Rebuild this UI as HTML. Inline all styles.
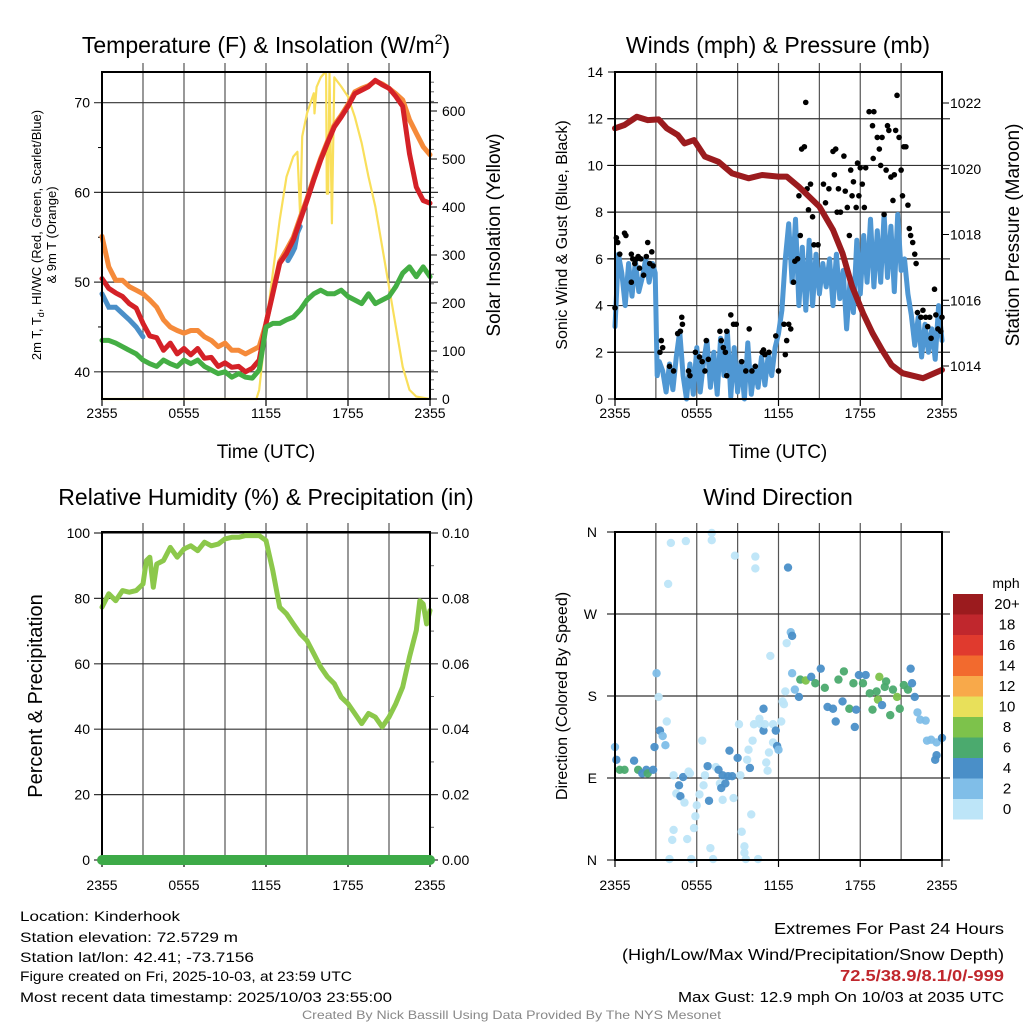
<!DOCTYPE html>
<html><head><meta charset="utf-8"><title>Kinderhook Meteogram</title>
<style>
html,body{margin:0;padding:0;background:#fff;}
svg{display:block;font-family:"Liberation Sans",Arial,sans-serif;}
</style></head>
<body>
<svg id="root" width="1024" height="1024" viewBox="0 0 1024 1024" xmlns="http://www.w3.org/2000/svg">
<rect x="0" y="0" width="1024" height="1024" fill="#fff"/>
<g id="p1"></g>
<g id="p2"></g>
<g id="p3"></g>
<g id="p4"></g>
<g id="legend"></g>

<text x="266" y="53" font-size="23" text-anchor="middle">Temperature (F) &amp; Insolation (W/m<tspan font-size="14" dy="-9">2</tspan><tspan dy="9">)</tspan></text>
<text x="778" y="53" font-size="23" text-anchor="middle">Winds (mph) &amp; Pressure (mb)</text>
<text x="266" y="505" font-size="23" text-anchor="middle">Relative Humidity (%) &amp; Precipitation (in)</text>
<text x="778" y="505" font-size="23" text-anchor="middle">Wind Direction</text>

<text x="266" y="458" font-size="19" text-anchor="middle">Time (UTC)</text>
<text x="778" y="458" font-size="19" text-anchor="middle">Time (UTC)</text>

<text transform="translate(41,235) rotate(-90)" font-size="13" text-anchor="middle">2m T, T<tspan font-size="9" dy="3">d</tspan><tspan dy="-3">, HI/WC (Red, Green, Scarlet/Blue)</tspan></text>
<text transform="translate(56,235) rotate(-90)" font-size="13" text-anchor="middle">&amp; 9m T (Orange)</text>
<text transform="translate(500,235) rotate(-90)" font-size="19" text-anchor="middle">Solar Insolation (Yellow)</text>
<text transform="translate(567,235) rotate(-90)" font-size="16" text-anchor="middle">Sonic Wind &amp; Gust (Blue, Black)</text>
<text transform="translate(1019,235) rotate(-90)" font-size="19" text-anchor="middle">Station Pressure (Maroon)</text>
<text transform="translate(42,696) rotate(-90)" font-size="20" text-anchor="middle">Percent &amp; Precipitation</text>
<text transform="translate(567,696) rotate(-90)" font-size="16" text-anchor="middle">Direction (Colored By Speed)</text>

<g font-size="14">
<text x="20" y="921" textLength="160" lengthAdjust="spacingAndGlyphs">Location: Kinderhook</text>
<text x="20" y="942" textLength="218" lengthAdjust="spacingAndGlyphs">Station elevation: 72.5729 m</text>
<text x="20" y="962" textLength="234" lengthAdjust="spacingAndGlyphs">Station lat/lon: 42.41; -73.7156</text>
<text x="20" y="981" textLength="332" lengthAdjust="spacingAndGlyphs">Figure created on Fri, 2025-10-03, at 23:59 UTC</text>
<text x="20" y="1002" textLength="372" lengthAdjust="spacingAndGlyphs">Most recent data timestamp: 2025/10/03 23:55:00</text>
</g>
<g>
<text x="774" y="934" font-size="16" textLength="230" lengthAdjust="spacingAndGlyphs">Extremes For Past 24 Hours</text>
<text x="622" y="960" font-size="16" textLength="382" lengthAdjust="spacingAndGlyphs">(High/Low/Max Wind/Precipitation/Snow Depth)</text>
<text x="840" y="981" font-size="16" font-weight="bold" fill="#C0272D" textLength="164" lengthAdjust="spacingAndGlyphs">72.5/38.9/8.1/0/-999</text>
<text x="678" y="1002" font-size="15" textLength="326" lengthAdjust="spacingAndGlyphs">Max Gust: 12.9 mph On 10/03 at 2035 UTC</text>
</g>
<text x="302" y="1019" font-size="12" fill="#888" textLength="419" lengthAdjust="spacingAndGlyphs">Created By Nick Bassill Using Data Provided By The NYS Mesonet</text>
</svg>

<script>
// ---------- DATA ----------
const xTickLabels = ["2355","0555","1155","1755","2355"];
const tempTicks = [40,50,60,70];
const solarTicks = [0,100,200,300,400,500,600];
const windTicks = [0,2,4,6,8,10,12,14];
const presTicks = [1014,1016,1018,1020,1022];
const rhTicks = [0,20,40,60,80,100];
const precipTicks = ["0.00","0.02","0.04","0.06","0.08","0.10"];
const dirTicks = ["N","E","S","W","N"];
const speedLabels = ["20+","18","16","14","12","10","8","6","4","2","0"];
const speedColors = ["#9B1B1E","#C0272D","#E03A2E","#F26A2E","#F8A94A","#E8E05A","#7DC24B","#4BAA6E","#4A8FC8","#80BEE8","#BDE5F8"];

// half-hourly temperature series (h0..h24)
const tempRed = [50.4,49.3,48.8,48.4,47.6,47.1,45.4,44.0,43.8,42.4,43.2,42.0,
 42.6,41.9,42.6,41.5,41.6,40.6,41.0,40.5,40.6,40.0,40.4,41.3,
 45.4,48.7,52.1,53.2,54.7,56.9,59.1,61.4,63.6,65.5,67.3,68.4,
 69.6,71.0,71.4,71.8,72.5,72.0,71.6,70.7,69.6,64.3,60.6,59.1,58.8];
const tempOrange = [55.1,51.7,50.2,50.2,49.5,49.1,48.7,48.0,47.2,45.8,45.0,44.6,
 44.3,44.6,44.6,43.9,43.5,42.8,43.2,42.4,42.4,42.0,42.4,42.8,
 45.4,48.9,52.3,53.6,55.0,57.2,59.3,61.6,63.8,65.7,67.5,68.6,
 69.8,71.2,71.6,71.9,72.4,72.1,71.6,71.0,70.3,68.1,66.6,65.1,64.2];
const tempGreen = [43.5,43.5,43.2,42.8,42.4,42.0,41.3,40.9,40.6,41.3,40.9,40.6,
 41.3,40.9,41.3,40.6,40.2,39.8,40.0,39.4,39.8,39.4,39.3,40.2,
 45.0,45.4,45.4,45.8,46.1,46.9,48.0,48.7,49.1,48.7,48.7,49.1,
 48.4,48.0,47.6,48.7,47.6,48.0,48.4,49.5,51.0,51.7,50.6,51.7,50.6];
const wcTimes = [0,0.5,1,1.5,2,2.5,3];
const wcValues = [48.7,47.2,47.2,46.5,45.8,45.0,43.9];
const wcTimes2 = [13.6,13.9,14.1,14.3,14.5];
const wcValues2 = [52.4,53.2,53.8,55.5,56.2];

const solarTimes = [0,11.3,11.5,12,12.5,13,13.5,14,14.3,14.5,14.65,15,15.5,15.55,15.7,16,16.3,16.4,16.45,16.55,16.65,16.82,17,17.5,18,18.5,19,19.5,20,20.5,21,21.5,22,22.5,23,24];
const solarValues = [0,0,19,150,262,373,463,505,515,380,547,595,637,595,650,670,680,678,428,428,680,366,670,651,630,588,533,463,401,317,234,151,67,19,5,0];

const windTimes = [0,0.25,0.5,0.75,1,1.25,1.5,1.75,2,2.25,2.5,2.75,2.95,3.1,3.25,3.5,3.75,4,4.25,4.5,4.75,5,5.25,5.5,5.75,6,6.25,6.5,6.75,7,7.25,7.5,7.75,8,8.25,8.5,8.75,9,9.25,9.5,9.75,10,10.25,10.5,10.75,11,11.25,11.5,11.75,12,12.25,12.5,12.75,13,13.25,13.5,13.75,14,14.25,14.5,14.75,15,15.25,15.5,15.75,16,16.25,16.5,16.75,17,17.25,17.5,17.75,18,18.25,18.5,18.75,19,19.25,19.5,19.75,20,20.25,20.5,20.75,21,21.25,21.5,21.75,22,22.25,22.5,22.75,23,23.25,23.5,23.75,24];
const windValues = [3.1,6.2,5.4,4.0,5.8,4.4,5.9,4.6,5.2,6.0,5.0,5.8,5.4,1.0,1.6,1.2,0.3,1.5,0.4,1.8,2.9,1.0,0.0,1.5,0.2,2.2,0.3,1.6,2.5,0.5,2.0,0.2,2.6,1.0,2.9,0.1,2.2,0.3,1.6,0.0,2.4,0.2,1.4,0.5,1.8,0.6,1.9,1.0,2.2,2.8,3.8,6.0,7.5,5.0,7.7,4.0,6.5,3.8,6.8,4.0,6.2,4.5,5.8,4.8,6.0,4.0,6.2,4.3,5.5,3.0,5.0,3.7,6.8,4.5,7.0,5.0,7.7,4.8,7.2,5.0,7.9,5.2,7.4,4.6,7.9,5.5,6.0,4.5,3.6,2.3,3.5,1.8,3.2,2.0,3.0,1.7,4.0,2.5];

const gustTimes = [0,0.1,0.2,0.7,0.8,0.35,1.2,1.3,1.6,1.7,1.45,1.8,1.9,2.1,2.3,2.4,2.55,2.7,2.8,1.2,3.3,3.4,3.5,4.0,4.3,4.8,4.9,4.95,4.6,5.4,5.5,5.9,6.2,6.4,6.6,6.7,6.85,7.7,7.8,7.95,8.1,8.2,8.5,8.7,8.9,8.2,9.3,9.6,9.85,10.05,10.3,10.8,10.9,11.0,11.3,11.8,12.0,12.4,12.5,12.6,12.75,12.9,13.1,13.2,13.4,13.5,13.6,13.7,13.9,14.0,14.1,14.2,14.35,14.5,14.6,14.9,15.3,15.45,15.7,16.0,16.2,16.1,16.3,16.4,16.55,16.8,16.9,17.05,17.2,17.3,17.4,17.5,17.7,17.8,17.9,18.0,18.15,18.3,18.4,18.65,18.9,19.0,18.95,19.25,19.4,19.6,19.5,19.75,19.9,20.0,20.1,20.25,20.4,20.5,20.6,20.7,20.85,21.0,21.1,21.2,21.35,21.5,21.6,21.7,21.85,22.0,22.1,22.2,22.45,22.6,22.8,22.95,23.1,23.2,23.45,23.55,23.9,24.0,23.7];
const gustValues = [3.9,6.9,6.7,7.1,7.0,6.2,6.2,6.0,6.0,6.1,5.8,5.6,6.0,5.3,6.1,6.7,5.8,6.3,5.7,5.0,2.0,2.5,2.2,1.4,1.2,2.9,3.5,3.2,2.8,1.2,1.0,2.0,1.8,1.6,1.2,2.5,1.7,2.9,2.5,2.2,2.0,2.9,3.6,3.2,3.2,1.0,1.6,1.2,3.0,1.2,1.4,2.0,2.1,1.9,2.0,2.7,1.2,3.2,1.9,2.5,3.2,3.0,5.0,5.9,6.0,8.7,7.0,10.7,10.8,12.7,9.0,8.1,9.2,7.8,6.6,6.6,9.2,8.4,9.0,10.6,10.7,9.6,8.0,9.0,8.0,10.4,8.9,8.2,7.0,9.8,8.7,9.3,8.2,10.1,8.7,9.9,9.2,8.2,9.9,12.3,11.7,12.3,10.3,11.2,10.7,11.2,10.0,7.9,9.8,11.7,11.5,9.5,8.5,9.6,11.5,13.0,11.2,9.8,8.7,10.8,10.8,8.3,7.3,7.0,6.7,6.2,5.8,3.7,3.5,3.8,3.5,3.1,3.5,2.6,4.7,3.6,2.9,3.5,3.0];

const presTimes = [0,0.7,1.6,2.4,3.2,3.8,4.6,5.1,5.8,6.6,7.6,8.6,9.8,10.8,12.0,12.6,13.5,14.0,15.0,16.0,16.7,17.4,18.2,18.9,19.6,20.3,21.1,22.6,24.0];
const presValues = [1021.23,1021.33,1021.58,1021.48,1021.50,1021.23,1021.03,1020.77,1020.87,1020.37,1020.21,1019.86,1019.71,1019.81,1019.76,1019.76,1019.45,1019.25,1018.85,1018.14,1017.43,1016.42,1015.61,1015.0,1014.49,1014.03,1013.78,1013.63,1013.88];

const rhTimes = [0,0.5,1,1.5,2,2.5,3,3.25,3.5,3.75,4,4.5,5,5.5,6,6.5,7,7.5,8,8.5,9,9.5,10,10.5,11,11.5,12,12.5,13,13.5,14,14.5,15,15.5,16,16.5,17,17.5,18,18.5,19,19.5,20,20.5,21,21.5,22,22.5,23,23.25,23.5,23.75,24];
const rhValues = [77.3,81.4,79.3,82.4,81.9,82.4,84.4,91.6,92.6,83.4,90.5,91.6,95.6,92.6,95.1,96.1,94.6,97.2,96.1,96.6,98.2,98.7,98.7,99.2,99.2,99.2,97.7,88.5,77.3,75.3,72.2,69.2,67.1,63.1,59.0,56.0,53.9,49.8,47.8,44.8,41.7,44.8,43.7,40.7,43.7,47.8,52.9,62.1,70.2,79.3,78.3,72.2,76.3];
const precipTimes = [0,24];
const precipValues = [0,0];

const dirTimes = [0,0.1,0.35,0.7,1.4,1.7,2.0,2.3,2.4,2.8,2.9,3.05,3.2,3.3,3.5,3.7,3.8,3.9,4.1,5.2,7.1,7.1,8.8,10.3,10.3,12.7,12.9,13.0,12.6,11.4,4.3,4.7,5.0,4.5,4.8,5.1,5.4,5.5,4.3,4.2,5.3,5.8,5.9,6.0,6.2,6.4,6.5,6.6,6.8,6.9,7.0,7.2,5.6,4.0,7.4,7.6,7.7,7.8,7.9,7.9,8.1,8.3,8.4,8.7,8.6,9.0,9.1,9.2,9.3,9.5,9.5,9.6,10.5,9.7,9.8,9.9,10.0,10.1,10.2,10.6,10.7,10.9,10.9,11.0,11.1,11.2,11.3,11.6,11.6,11.8,11.9,12.0,12.2,12.3,12.4,12.5,13.0,13.2,13.5,13.6,14.0,14.4,14.7,15.1,15.4,15.6,16.0,16.2,16.4,16.7,16.8,17.2,17.5,17.6,17.7,17.9,18.2,18.4,18.7,18.9,19.2,19.4,19.3,19.6,19.8,19.9,20.2,20.4,20.7,20.9,21.2,21.5,21.7,21.8,22.0,22.2,22.4,22.8,22.9,23.2,23.6,24.0,23.6,23.5];
const dirValues = [124,110,99,99,109,99,95,99,95,99,124,205,179,142,136,126,152,303,348,350,359,351,334,333,320,321,250,246,238,224,93,82,91,73,70,63,97,95,33,22,23,35,48,60,72,131,82,93,103,65,13,1,1,1,102,99,84,79,93,66,84,92,120,68,92,112,149,93,31,15,8,1,1,110,121,101,50,131,149,155,149,142,166,149,107,98,118,149,129,142,125,121,152,174,171,185,205,187,179,198,197,201,194,210,189,168,166,152,198,174,207,166,194,146,165,203,194,203,183,165,185,201,176,170,190,196,159,187,179,166,192,187,210,194,179,162,154,153,131,132,129,134,115,110];
const dirSpeeds = [3,5,7,7,5,7,5,5,7,5,5,3,1,5,3,3,1,1,1,1,1,1,1,1,1,5,3,5,1,1,1,5,5,1,5,1,1,1,1,1,1,1,1,1,1,1,1,1,5,5,1,1,1,1,1,5,1,5,5,1,5,5,5,1,5,5,1,1,1,1,1,1,1,1,1,5,1,1,1,1,1,5,5,1,1,1,1,1,1,5,5,3,1,1,1,1,3,3,5,7,9,5,7,5,7,5,5,5,7,5,7,7,7,5,5,5,7,5,7,7,7,9,9,5,7,7,7,7,9,7,7,7,5,5,5,3,3,3,3,3,3,5,5,5];

// ---------- HELPERS ----------
const NS = "http://www.w3.org/2000/svg";
function mk(tag, attrs, parent){
  const el = document.createElementNS(NS, tag);
  for (const k in attrs) el.setAttribute(k, attrs[k]);
  parent.appendChild(el);
  return el;
}
function lin(d0,d1,r0,r1){ return v => r0 + (v-d0)*(r1-r0)/(d1-d0); }
function pathFrom(ts, vs, fx, fy){
  let d = "";
  for (let i=0;i<ts.length;i++){
    if (vs[i]===null) continue;
    d += (d===""?"M":"L") + fx(ts[i]).toFixed(1) + "," + fy(vs[i]).toFixed(1);
  }
  return d;
}
const halfHours = tempRed.map((_,i)=>i*0.5);

function frame(g, x0, y0, x1, y1, name, labOff){
  const fx = lin(0,24,x0,x1);
  for (let h=3; h<24; h+=3){
    const l = mk("line",{x1:fx(h),x2:fx(h),y1:y0-9,y2:y1,stroke:"#555","stroke-width":1.2},g);
    
    
  }
  for (let h=0; h<=24; h+=6){
    const t = mk("line",{x1:fx(h),x2:fx(h),y1:y1,y2:y1+7,stroke:"#000","stroke-width":1.2},g);
    
    
  }
  xTickLabels.forEach((lab,i)=>{
    const t = mk("text",{x:fx(i*6),y:y1+labOff,"font-size":14,"text-anchor":"middle"},g);
    t.textContent = lab;
    
    
  });
}
function hgrid(g, x0, x1, y, name){
  const l = mk("line",{x1:x0-8,x2:x1+8,y1:y,y2:y,stroke:"#333","stroke-width":1.2},g);
  
  
}
function border(g,x0,y0,x1,y1,name){
  const r = mk("rect",{x:x0,y:y0,width:x1-x0,height:y1-y0,fill:"none",stroke:"#000","stroke-width":2},g);
  
  
}
function label(g,x,y,txt,anchor,name,size){
  const t = mk("text",{x:x,y:y,"font-size":size||14,"text-anchor":anchor},g);
  t.textContent = txt;
  
  
}

// ---------- PANEL 1 ----------
(function(){
  const g = document.getElementById("p1");
  const x0=102,x1=430,y0=72,y1=399;
  const fx = lin(0,24,x0,x1);
  const fyT = lin(70,40,102.7,371.8);
  const fyS = lin(0,600,399,111);
  frame(g,x0,y0,x1,y1,"temperature",19);
  tempTicks.forEach(v=>{ hgrid(g,x0,x1,fyT(v),"temperature-hgrid"); label(g,x0-12,fyT(v)+5,String(v),"end","temperature-y-tick-label"); });
  for (let v=35; v<=75; v+=10){ if(fyT(v)>y0 && fyT(v)<y1){ const m=mk("line",{x1:x0-4,x2:x0,y1:fyT(v),y2:fyT(v),stroke:"#000"},g);   } }
  solarTicks.forEach(v=>{ const m=mk("line",{x1:x1,x2:x1+7,y1:fyS(v),y2:fyS(v),stroke:"#000"},g);   label(g,x1+12,fyS(v)+5,String(v),"start","solar-y-tick-label"); });
  for (let v=20; v<680; v+=20){ if (v%100){ const m=mk("line",{x1:x1,x2:x1+4,y1:fyS(v),y2:fyS(v),stroke:"#666"},g);   } }
  const s = mk("path",{d:pathFrom(solarTimes,solarValues,fx,fyS),fill:"none",stroke:"#F9DF5B","stroke-width":2.2,"stroke-linejoin":"round"},g);
  
  
  const o = mk("path",{d:pathFrom(halfHours,tempOrange,fx,fyT),fill:"none",stroke:"#F58A3A","stroke-width":5,"stroke-linejoin":"round","stroke-linecap":"round"},g);
  
  
  const b1 = mk("path",{d:pathFrom(wcTimes,wcValues,fx,fyT),fill:"none",stroke:"#4A8FC8","stroke-width":5,"stroke-linecap":"round"},g);
  
  
  const b2 = mk("path",{d:pathFrom(wcTimes2,wcValues2,fx,fyT),fill:"none",stroke:"#4A8FC8","stroke-width":5,"stroke-linecap":"round"},g);
  
  
  const r = mk("path",{d:pathFrom(halfHours,tempRed,fx,fyT),fill:"none",stroke:"#D42127","stroke-width":5,"stroke-linejoin":"round","stroke-linecap":"round"},g);
  
  
  const gr = mk("path",{d:pathFrom(halfHours,tempGreen,fx,fyT),fill:"none",stroke:"#44AE44","stroke-width":5,"stroke-linejoin":"round","stroke-linecap":"round"},g);
  
  
  border(g,x0,y0,x1,y1,"temperature");
})();

// ---------- PANEL 2 ----------
(function(){
  const g = document.getElementById("p2");
  const x0=615,x1=942,y0=72,y1=399;
  const fx = lin(0,24,x0,x1);
  const fyW = lin(0,14,399,72);
  const fyP = lin(1014,1022,366,103);
  frame(g,x0,y0,x1,y1,"wind",19);
  windTicks.forEach(v=>{ if(v>0&&v<14) hgrid(g,x0,x1,fyW(v),"wind-hgrid"); const m=mk("line",{x1:x0-7,x2:x0,y1:fyW(v),y2:fyW(v),stroke:"#000"},g);   label(g,x0-12,fyW(v)+5,String(v),"end","wind-y-tick-label"); });
  presTicks.forEach(v=>{ const m=mk("line",{x1:x1,x2:x1+7,y1:fyP(v),y2:fyP(v),stroke:"#000"},g);   label(g,x1+8,fyP(v)+5,String(v),"start","pressure-y-tick-label"); });
  const w = mk("path",{d:pathFrom(windTimes,windValues,fx,fyW),fill:"none",stroke:"#4F97D3","stroke-width":5,"stroke-linejoin":"round","stroke-linecap":"round"},g);
  
  
  gustTimes.forEach((t,i)=>{
    const c = mk("circle",{cx:fx(t),cy:fyW(gustValues[i]),r:2.8,fill:"#000"},g);
    
    
  });
  const p = mk("path",{d:pathFrom(presTimes,presValues,fx,fyP),fill:"none",stroke:"#9B1B1E","stroke-width":6,"stroke-linejoin":"round","stroke-linecap":"round"},g);
  
  
  border(g,x0,y0,x1,y1,"wind");
})();

// ---------- PANEL 3 ----------
(function(){
  const g = document.getElementById("p3");
  const x0=102,x1=430,y0=532,y1=860;
  const fx = lin(0,24,x0,x1);
  const fy = lin(0,100,860,533);
  const fyPr = lin(0,0.10,860,533);
  frame(g,x0,y0,x1,y1,"humidity",30);
  rhTicks.forEach(v=>{ hgrid(g,x0,x1,fy(v),"humidity-hgrid"); label(g,x0-12,fy(v)+5,String(v),"end","humidity-y-tick-label"); });
  precipTicks.forEach(v=>{ label(g,x1+12,fyPr(parseFloat(v))+5,v,"start","precip-y-tick-label"); });
  for (let v=0.01; v<0.1; v+=0.02){ const m=mk("line",{x1:x1,x2:x1+4,y1:fyPr(v),y2:fyPr(v),stroke:"#666"},g);   }
  const rh = mk("path",{d:pathFrom(rhTimes,rhValues,fx,fy),fill:"none",stroke:"#8CC84B","stroke-width":5,"stroke-linejoin":"round","stroke-linecap":"round"},g);
  
  
  border(g,x0,y0,x1,y1,"humidity");
  const pr = mk("path",{d:pathFrom(precipTimes,precipValues,fx,fyPr),fill:"none",stroke:"#3DAA48","stroke-width":10,"stroke-linecap":"round"},g);
  
  
})();

// ---------- PANEL 4 ----------
function speedColor(s){
  const idx = Math.min(10, Math.floor(s/2));
  return speedColors[10-idx];
}
(function(){
  const g = document.getElementById("p4");
  const x0=615,x1=942,y0=532,y1=860;
  const fx = lin(0,24,x0,x1);
  const fy = lin(0,360,860,532);
  frame(g,x0,y0,x1,y1,"direction",30);
  dirTicks.forEach((lab,i)=>{ hgrid(g,x0,x1,fy(i*90),"direction-hgrid"); label(g,x0-18,fy(i*90)+5,lab,"end","direction-y-tick-label"); });
  dirTimes.forEach((t,i)=>{
    const c = mk("circle",{cx:fx(t),cy:fy(dirValues[i]),r:4.2,fill:speedColor(dirSpeeds[i]),"fill-opacity":0.95},g);
    
    
  });
  border(g,x0,y0,x1,y1,"direction");
})();

// ---------- COLORBAR ----------
(function(){
  const g = document.getElementById("legend");
  const t = mk("text",{x:1006,y:588,"font-size":14,"text-anchor":"middle"},g);
  t.textContent = "mph";
  
  
  speedLabels.forEach((lab,i)=>{
    const r = mk("rect",{x:953,y:594+i*20.5,width:30,height:20.5,fill:speedColors[i]},g);
    
    
    const tx = mk("text",{x:1007,y:594+i*20.5+15,"font-size":15,"text-anchor":"middle"},g);
    tx.textContent = lab;
    
    
  });
})();
</script>
</body></html>
